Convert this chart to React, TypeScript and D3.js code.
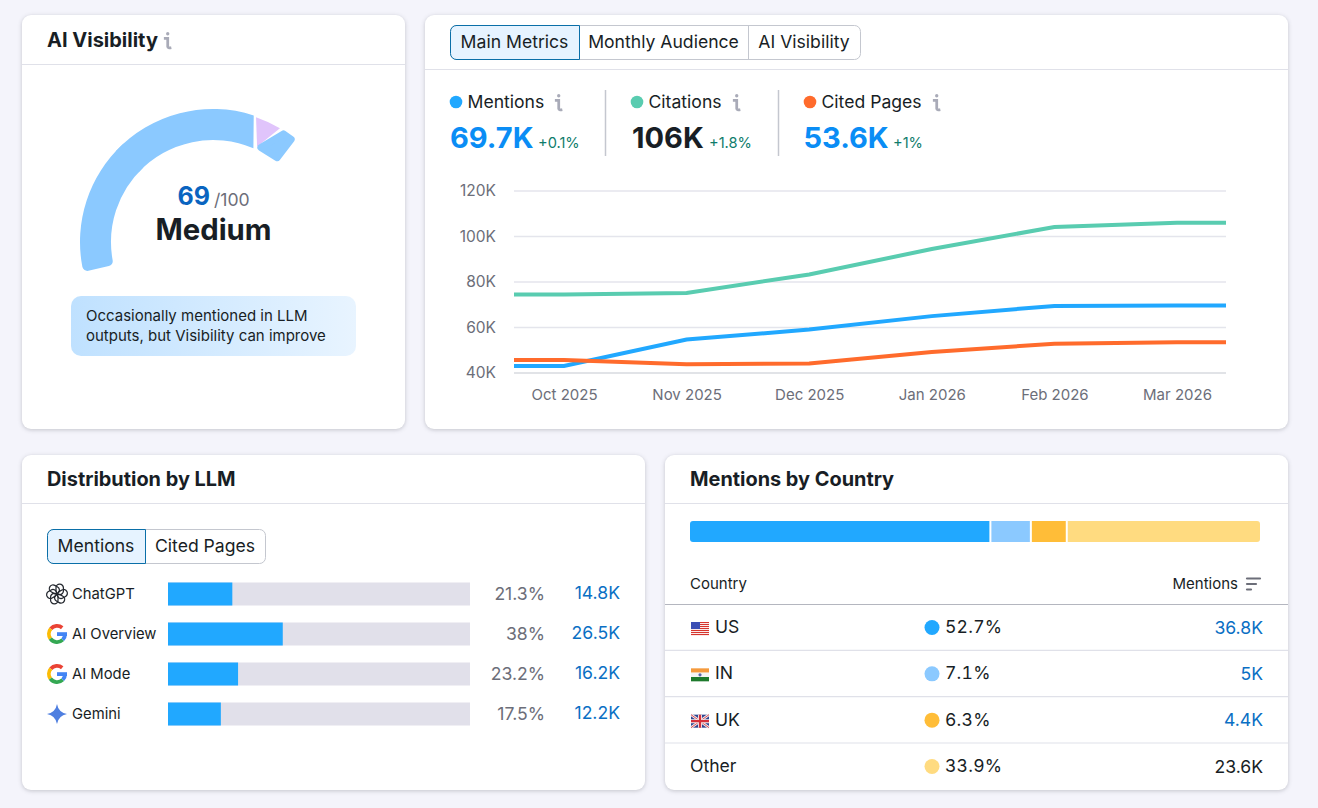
import * as d3 from "d3";
import { useEffect, useRef } from "react";

const months = ["Oct 2025", "Nov 2025", "Dec 2025", "Jan 2026", "Feb 2026", "Mar 2026"];
const mentions = [43.1, 54.7, 59.1, 65, 69.5, 69.7];
const citations = [74.5, 75.2, 83.3, 94.5, 104.2, 106];
const citedPages = [45.7, 43.8, 44.2, 49.2, 52.9, 53.5];
const yTicks = [40, 60, 80, 100, 120];

const llmNames = ["ChatGPT", "AI Overview", "AI Mode", "Gemini"];
const llmShare = [21.3, 38, 23.2, 17.5];
const llmMentions = ["14.8K", "26.5K", "16.2K", "12.2K"];

const countryNames = ["US", "IN", "UK", "Other"];
const countryShare = [52.7, 7.1, 6.3, 33.9];
const countryMentions = ["36.8K", "5K", "4.4K", "23.6K"];
const countryColors = ["#21a8ff", "#8bc9ff", "#ffbd38", "#ffdb80"];

const gaugeStops = [0, 86, 95, 100];

const FONT = "Inter, sans-serif";
const INK = "#181e25";
const LINK = "#0a6fc4";
const GREY = "#6c6e79";

type G = d3.Selection<SVGGElement, unknown, null, undefined>;

function label(g: G, x: number, y: number, s: string, size: number, color = INK, weight = 400, anchor = "start") {
  return g
    .append("text")
    .attr("x", x)
    .attr("y", y)
    .attr("font-size", size)
    .attr("font-weight", weight)
    .attr("fill", color)
    .attr("text-anchor", anchor)
    .text(s);
}

function hline(g: G, x1: number, x2: number, y: number, color = "#e0e1e9", w = 1) {
  g.append("line").attr("x1", x1).attr("x2", x2).attr("y1", y).attr("y2", y).attr("stroke", color).attr("stroke-width", w);
}

function card(g: G, x: number, y: number, w: number, h: number) {
  g.append("rect")
    .attr("x", x)
    .attr("y", y)
    .attr("width", w)
    .attr("height", h)
    .attr("rx", 9)
    .attr("fill", "#fff")
    .style("filter", "drop-shadow(0 1px 2px rgba(25,27,35,0.22))");
}

function infoIcon(g: G, x: number, y: number) {
  const i = g.append("g").attr("transform", `translate(${x},${y}) scale(1.2)`).attr("fill", "none").attr("stroke", "#a9abb8");
  i.append("circle").attr("cx", 0.6).attr("cy", -6).attr("r", 1.4).attr("fill", "#a9abb8").attr("stroke", "none");
  i.append("path").attr("d", "M-2.6,-2.2 H0.6 V4.6 Q0.8,6.2 3.6,5.6").attr("stroke-width", 2.3);
}

// segmented buttons, the first one is the active one
function tabs(g: G, x0: number, y: number, h: number, names: string[], widths: number[]) {
  const total = d3.sum(widths);
  g.append("rect").attr("x", x0 + 0.5).attr("y", y + 0.5).attr("width", total).attr("height", h).attr("rx", 6)
    .attr("fill", "#fff").attr("stroke", "#c4c7cf");
  let x = x0;
  names.forEach((n, i) => {
    if (i === 0) {
      g.append("rect").attr("x", x + 0.5).attr("y", y + 0.5).attr("width", widths[0]).attr("height", h).attr("rx", 6)
        .attr("fill", "#e6f3ff").attr("stroke", "#0a6fa8");
      g.append("rect").attr("x", x + 8).attr("y", y + 0.5).attr("width", widths[0] - 7.5).attr("height", h)
        .attr("fill", "#e6f3ff");
      g.append("path").attr("d", `M${x + 6},${y + 0.5} H${x + widths[0] + 0.5} V${y + h + 0.5} H${x + 6}`)
        .attr("fill", "none").attr("stroke", "#0a6fa8");
    } else if (i > 1) {
      g.append("line").attr("x1", x + 0.5).attr("x2", x + 0.5).attr("y1", y).attr("y2", y + h).attr("stroke", "#c4c7cf");
    }
    label(g, x + widths[i] / 2, y + h / 2 + 6.3, n, 17.6, INK, 400, "middle");
    x += widths[i];
  });
}

function chatgptIcon(g: G, x: number, y: number) {
  const i = g.append("g").attr("transform", `translate(${x},${y})`).attr("fill", "none").attr("stroke", "#23272e").attr("stroke-width", 1.25);
  d3.range(6).forEach((k) => {
    i.append("rect")
      .attr("x", -1)
      .attr("y", -9.8)
      .attr("width", 7.4)
      .attr("height", 10.4)
      .attr("rx", 3.6)
      .attr("transform", `rotate(${k * 60})`);
  });
}

function googleIcon(g: G, x: number, y: number) {
  const i = g.append("g").attr("transform", `translate(${x},${y})`);
  const arc = d3.arc<{ a: number; b: number }>().innerRadius(6.2).outerRadius(10).startAngle((d) => d.a).endAngle((d) => d.b);
  const rad = Math.PI / 180;
  [
    { a: 40, b: -50, c: "#ea4335" },
    { a: -50, b: -125, c: "#fbbc05" },
    { a: -125, b: -225, c: "#34a853" },
    { a: -225, b: -270, c: "#4285f4" },
  ].forEach((s) => {
    i.append("path").attr("d", arc({ a: s.a * rad, b: s.b * rad })).attr("fill", s.c);
  });
  i.append("rect").attr("x", 0).attr("y", -1.8).attr("width", 10).attr("height", 3.8).attr("fill", "#4285f4");
}

function geminiIcon(g: G, x: number, y: number) {
  g.append("path")
    .attr("transform", `translate(${x},${y})`)
    .attr("d", "M0,-10 Q1.5,-1.5 10,0 Q1.5,1.5 0,10 Q-1.5,1.5 -10,0 Q-1.5,-1.5 0,-10 Z")
    .attr("fill", "#4f7fe0");
}

function flag(g: G, name: string, x: number, y: number) {
  const w = 18;
  const h = 13;
  const f = g.append("g").attr("transform", `translate(${x},${y})`);
  if (name === "US") {
    f.append("rect").attr("width", w).attr("height", h).attr("fill", "#fff");
    d3.range(0, 7).forEach((k) => {
      f.append("rect").attr("y", k * 2).attr("width", w).attr("height", 1.1).attr("fill", "#d6352e");
    });
    f.append("rect").attr("width", 9).attr("height", 7).attr("fill", "#3c4fb4");
  } else if (name === "IN") {
    f.append("rect").attr("width", w).attr("height", h / 3).attr("fill", "#f59a3c");
    f.append("rect").attr("y", h / 3).attr("width", w).attr("height", h / 3).attr("fill", "#f4f4f4");
    f.append("rect").attr("y", (2 * h) / 3).attr("width", w).attr("height", h / 3).attr("fill", "#1d7a2c");
    f.append("circle").attr("cx", w / 2).attr("cy", h / 2).attr("r", 1.6).attr("fill", "#5a66a8");
  } else if (name === "UK") {
    f.append("rect").attr("width", w).attr("height", h).attr("fill", "#2f4590");
    f.append("path").attr("d", `M0,0 L${w},${h} M${w},0 L0,${h}`).attr("stroke", "#f2e9ea").attr("stroke-width", 2.6);
    f.append("path").attr("d", `M0,0 L${w},${h} M${w},0 L0,${h}`).attr("stroke", "#d5404a").attr("stroke-width", 0.9);
    f.append("path").attr("d", `M${w / 2},0 V${h} M0,${h / 2} H${w}`).attr("stroke", "#f2e9ea").attr("stroke-width", 4);
    f.append("path").attr("d", `M${w / 2},0 V${h} M0,${h / 2} H${w}`).attr("stroke", "#d5303a").attr("stroke-width", 2.2);
  }
}

function drawGauge(g: G) {
  const cx = 213;
  const cy = 242;
  const rO = 133;
  const rI = 102;
  const rad = Math.PI / 180;
  const angle = d3.scaleLinear().domain([0, 100]).range([-103 * rad, 37.5 * rad]);
  const xy = (r: number, a: number): [number, number] => [cx + r * Math.sin(a), cy - r * Math.cos(a)];
  const [, s1, s2, s3] = gaugeStops;
  const mid = angle(40);

  // rounded foot of the gauge
  const arc = d3.arc<unknown>().innerRadius(rI).outerRadius(rO).cornerRadius(5);
  g.append("path")
    .attr("transform", `translate(${cx},${cy})`)
    .attr("d", arc({ startAngle: angle(0), endAngle: mid + 6 * rad } as any))
    .attr("fill", "#8bc9ff");

  // upper part ends on a slanted edge
  const endO = angle(s1);
  const endI = endO + 5.5 * rad;
  const p = d3.path();
  p.moveTo(...xy(rO, mid));
  p.arc(cx, cy, rO, mid - Math.PI / 2, endO - Math.PI / 2);
  p.lineTo(...xy(rI, endI));
  p.arc(cx, cy, rI, endI - Math.PI / 2, mid - Math.PI / 2, true);
  p.closePath();
  g.append("path").attr("d", p.toString()).attr("fill", "#8bc9ff");

  // purple wedge
  const a1 = endO + 1.2 * rad;
  const a2 = angle(s2);
  const apex = endI + 1.5 * rad;
  const w = d3.path();
  w.moveTo(...xy(rO - 1, a1));
  w.arc(cx, cy, rO - 1, a1 - Math.PI / 2, a2 - Math.PI / 2);
  w.lineTo(...xy(rI + 3, apex));
  w.closePath();
  g.append("path").attr("d", w.toString()).attr("fill", "#e0c4fb");

  // last blue piece
  const a3 = angle(s2) + 2.6 * rad;
  const a4 = angle(s3) - 0.2 * rad;
  const last = d3.line()([xy(rO - 4, a3), xy(rO - 4, a4), xy(rI + 4, a4), xy(rI + 4, apex + 2 * rad)]);
  g.append("path")
    .attr("d", last + "Z")
    .attr("fill", "#8bc9ff")
    .attr("stroke", "#8bc9ff")
    .attr("stroke-width", 7)
    .attr("stroke-linejoin", "round");
}

function drawVisibility(g: G) {
  card(g, 22, 15, 383, 414);
  label(g, 47, 47, "AI Visibility", 20, INK, 700);
  infoIcon(g, 167, 41);
  hline(g, 22, 405, 64.5);
  drawGauge(g);
  label(g, 177.5, 205, "69", 25, "#0a64c0", 700);
  label(g, 214, 205.5, "/100", 17.6, GREY);
  label(g, 213.5, 239.5, "Medium", 29.3, INK, 700, "middle");
  g.append("rect").attr("x", 71).attr("y", 296).attr("width", 285).attr("height", 60).attr("rx", 10).attr("fill", "url(#callout)");
  label(g, 86, 321, "Occasionally mentioned in LLM", 15, INK);
  label(g, 86, 341, "outputs, but Visibility can improve", 15, INK);
}

function drawMetrics(g: G) {
  card(g, 425, 15, 863, 414);
  tabs(g, 450, 25, 34, ["Main Metrics", "Monthly Audience", "AI Visibility"], [129, 169, 112]);
  hline(g, 425, 1288, 69.5);

  const stats = [
    { name: "Mentions", value: "69.7K", delta: "+0.1%", dot: "#21a8ff", color: "#0a8df5", dotX: 456, infoX: 558, valueX: 450, deltaX: 538 },
    { name: "Citations", value: "106K", delta: "+1.8%", dot: "#59ccb0", color: INK, dotX: 637, infoX: 736, valueX: 632, deltaX: 709 },
    { name: "Cited Pages", value: "53.6K", delta: "+1%", dot: "#ff6b2c", color: "#0a8df5", dotX: 810, infoX: 936, valueX: 803.5, deltaX: 893 },
  ];
  stats.forEach((s) => {
    g.append("circle").attr("cx", s.dotX).attr("cy", 102).attr("r", 6.3).attr("fill", s.dot);
    label(g, s.dotX + 11.5, 108, s.name, 17.6, INK);
    infoIcon(g, s.infoX, 103);
    label(g, s.valueX, 147.5, s.value, 29, s.color, 700);
    label(g, s.deltaX, 148, s.delta, 14.6, "#0e7c6b");
  });
  [605.5, 778.5].forEach((x) => {
    g.append("line").attr("x1", x).attr("x2", x).attr("y1", 90).attr("y2", 156).attr("stroke", "#c4c7cf").attr("stroke-width", 1.5);
  });

  const x = d3.scalePoint<string>().domain(months).range([564, 1177]);
  const y = d3.scaleLinear().domain([40, 120]).range([373, 191]);
  const left = 514;
  const right = 1226;

  const yAxis = g
    .append("g")
    .attr("transform", `translate(${left},0)`)
    .call(d3.axisLeft(y).tickValues(yTicks).tickSize(0).tickPadding(18).tickFormat((d) => `${d}K`));
  yAxis.select(".domain").remove();
  yAxis.selectAll("text").attr("font-size", 15.5).attr("font-family", FONT).attr("fill", GREY);

  yTicks.forEach((t) => {
    hline(g, left, right, y(t), t === 40 ? "#c4c7cf" : "#e4e5ec", t === 40 ? 1.2 : 1.5);
  });

  const xAxis = g
    .append("g")
    .attr("transform", "translate(0,373)")
    .call(d3.axisBottom(x).tickSize(0).tickPadding(16.5));
  xAxis.select(".domain").remove();
  xAxis.selectAll("text").attr("font-size", 15).attr("font-family", FONT).attr("fill", GREY);

  const line = d3
    .line<[number, number]>()
    .x((d) => d[0])
    .y((d) => y(d[1]));
  const series: [number[], string][] = [
    [citations, "#59ccb0"],
    [mentions, "#21a8ff"],
    [citedPages, "#ff6b2c"],
  ];
  series.forEach(([values, color]) => {
    // the lines run flat past the first and last month to the plot edges
    const pts: [number, number][] = [
      [left, values[0]],
      ...values.map((v, i) => [x(months[i])!, v] as [number, number]),
      [right, values[values.length - 1]],
    ];
    g.append("path").attr("d", line(pts)).attr("fill", "none").attr("stroke", color).attr("stroke-width", 4);
  });
}

function drawLlm(g: G) {
  card(g, 22, 455, 623, 335);
  label(g, 47, 486, "Distribution by LLM", 19.9, INK, 700);
  hline(g, 22, 645, 503.5);
  tabs(g, 47, 529, 34, ["Mentions", "Cited Pages"], [98, 120]);

  const x = d3.scaleLinear().domain([0, 100]).range([168, 470]);
  const y = d3.scalePoint<string>().domain(llmNames).range([594, 714]);
  const icons = [chatgptIcon, googleIcon, googleIcon, geminiIcon];
  llmNames.forEach((n, i) => {
    const cy = y(n)!;
    icons[i](g, 57, cy);
    label(g, 72, cy + 5, n, 14.8, INK);
    g.append("rect").attr("x", x(0)).attr("y", cy - 11.5).attr("width", x(100) - x(0)).attr("height", 23).attr("fill", "#e1e0ea");
    g.append("rect").attr("x", x(0)).attr("y", cy - 11.5).attr("width", x(llmShare[i]) - x(0)).attr("height", 23).attr("fill", "#21a8ff");
    label(g, 545, cy + 6, `${llmShare[i]}%`, 17.6, GREY, 400, "end");
    label(g, 620, cy + 5, llmMentions[i], 17.6, LINK, 400, "end");
  });
}

function drawCountry(g: G) {
  card(g, 665, 455, 623, 335);
  label(g, 690, 486, "Mentions by Country", 19.9, INK, 700);
  hline(g, 665, 1288, 503.5);

  const x = d3.scaleLinear().domain([0, 100]).range([690, 1260]);
  const starts = d3.cumsum([0, ...countryShare]);
  const bar = g.append("g").attr("clip-path", "url(#stackClip)");
  countryShare.forEach((v, i) => {
    const from = x(starts[i]) + (i > 0 ? 1 : 0);
    bar.append("rect")
      .attr("x", from)
      .attr("y", 521)
      .attr("width", x(starts[i] + v) - from - (i < countryShare.length - 1 ? 1 : 0))
      .attr("height", 21)
      .attr("fill", countryColors[i]);
  });

  label(g, 690, 589, "Country", 15, INK);
  label(g, 1238, 589, "Mentions", 15, INK, 400, "end");
  const sort = g.append("g").attr("stroke", GREY).attr("stroke-width", 2.2).attr("stroke-linecap", "round");
  [[1247, 1260, 578.5], [1247, 1256, 584], [1247, 1251, 589.5]].forEach(([a, b, c]) => {
    sort.append("line").attr("x1", a).attr("x2", b).attr("y1", c).attr("y2", c);
  });
  hline(g, 665, 1288, 604.5, "#b4b6bf", 1.2);

  const y = d3.scalePoint<string>().domain(countryNames).range([627, 766]);
  countryNames.forEach((n, i) => {
    const cy = y(n)!;
    if (i > 0) hline(g, 665, 1288, cy - 23, "#e0e1e9", 1.2);
    if (n !== "Other") flag(g, n, 691, cy - 5);
    label(g, n === "Other" ? 690 : 715, cy + 6, n, 17.6, INK);
    g.append("circle").attr("cx", 932).attr("cy", cy + 0.5).attr("r", 7.5).attr("fill", countryColors[i]);
    label(g, 945, cy + 6, `${countryShare[i]}%`, 17.6, INK)
      .style("font-variant-numeric", "tabular-nums")
      .style("letter-spacing", "0.2px");
    label(g, 1263, cy + 6.5, countryMentions[i], 17.6, n === "Other" ? INK : LINK, 400, "end");
  });
}

export default function App() {
  const ref = useRef<SVGSVGElement | null>(null);

  useEffect(() => {
    document.body.style.margin = "0";
    document.body.style.background = "#f4f4fb";
    const svg = d3.select(ref.current);
    svg.selectAll("*").remove();

    const defs = svg.append("defs");
    const grad = defs.append("linearGradient").attr("id", "callout");
    grad.append("stop").attr("offset", "0%").attr("stop-color", "#bfe1ff");
    grad.append("stop").attr("offset", "100%").attr("stop-color", "#e8f4ff");
    defs.append("clipPath").attr("id", "stackClip")
      .append("rect").attr("x", 690).attr("y", 521).attr("width", 570).attr("height", 21).attr("rx", 3);

    const root = svg.append("g").attr("font-family", FONT) as unknown as G;
    drawVisibility(root);
    drawMetrics(root);
    drawLlm(root);
    drawCountry(root);
  }, []);

  return <svg ref={ref} width={1318} height={808} style={{ display: "block", background: "#f4f4fb" }} />;
}
